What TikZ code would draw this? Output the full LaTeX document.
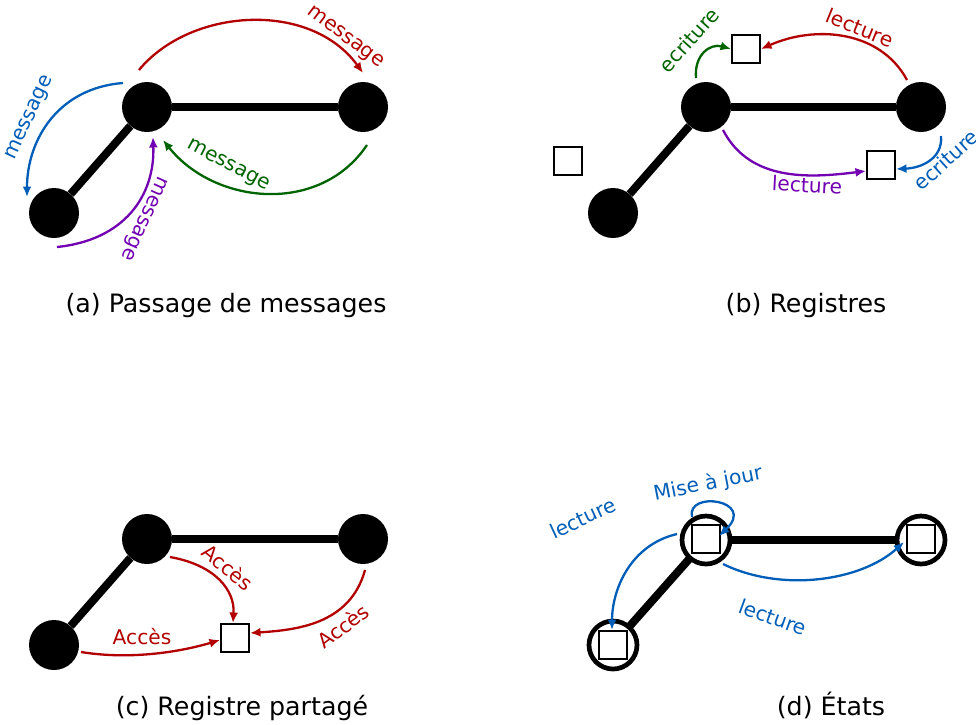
\documentclass[tikz,border=0pt]{standalone}
\usepackage{fontspec}
\setmainfont{DejaVu Sans}
\usetikzlibrary{calc,arrows.meta}
\definecolor{cred}{RGB}{178,0,0}
\definecolor{cblue}{RGB}{0,94,184}
\definecolor{cgreen}{RGB}{0,100,0}
\definecolor{cpurple}{RGB}{114,0,178}
\tikzset{
  proc/.style={circle,fill=black,minimum size=50pt,inner sep=0pt},
  sproc/.style={circle,draw=black,line width=4.7pt,fill=white,minimum size=48pt,inner sep=0pt},
  reg/.style={rectangle,draw=black,line width=2pt,fill=white,minimum size=28pt,inner sep=0pt},
  link/.style={line width=8pt},
  arr/.style={line width=2.3pt,-{Latex[length=10.5pt,width=9pt]}},
  lab/.style={font=\fontsize{20.2}{23}\selectfont,inner sep=0pt},
  captxt/.style={font=\fontsize{25.3}{29}\selectfont,inner sep=0pt,anchor=base},
}
\begin{document}
\begin{tikzpicture}[x=1pt,y=-1pt]
\useasboundingbox (0,0) rectangle (976,724);
% ---------- (a)
\node[proc] (A1) at (147,107) {};
\node[proc] (A2) at (363,107) {};
\node[proc] (A3) at (54,213) {};
\draw[link] (A1) -- (A2);
\draw[link] (A1) -- (A3);
\coordinate (ar0) at (139,70); \coordinate (ar1) at (363,73);
\draw[arr,cred] (ar0) .. controls (190,8) and (310,0) .. (ar1);
\node[lab,cred,rotate=-37] (ar) at (345,38) {message};
\coordinate (ab0) at (123,83); \coordinate (ab1) at (27,197);
\draw[arr,cblue] (ab0) .. controls (58,88) and (27,140) .. (ab1);
\node[lab,cblue,rotate=65] (ab) at (30,118) {message};
\coordinate (ag0) at (367,145); \coordinate (ag1) at (163,140);
\draw[arr,cgreen] (ag0) .. controls (320,215) and (215,205) .. (ag1);
\node[lab,cgreen,rotate=-28] (ag) at (228,166) {message};
\coordinate (ap0) at (57,247); \coordinate (ap1) at (153,137);
\draw[arr,cpurple] (ap0) .. controls (125,240) and (155,195) .. (ap1);
\node[lab,cpurple,rotate=-114] (ap) at (143,218) {message};
\node[captxt] (capa) at (226,312) {(a) Passage de messages};
% ---------- (b)
\node[proc] (B1) at (706,107) {};
\node[proc] (B2) at (921,107) {};
\node[proc] (B3) at (613,213) {};
\draw[link] (B1) -- (B2);
\draw[link] (B1) -- (B3);
\node[reg] (R1) at (746,49) {};
\node[reg] (R2) at (568,161) {};
\node[reg] (R3) at (881,165) {};
\coordinate (bg0) at (696,78);
\draw[arr,cgreen] (bg0) .. controls (694,55) and (710,43) .. (R1.west);
\node[lab,cgreen,rotate=48] (bg) at (689,40) {ecriture};
\coordinate (br0) at (907,80);
\draw[arr,cred] (br0) .. controls (880,30) and (815,25) .. (R1.east);
\node[lab,cred,rotate=-22] (br) at (860,28) {lecture};
\coordinate (bp0) at (723,130);
\draw[arr,cpurple] (bp0) .. controls (750,182) and (810,178) .. ($(R3.west)+(0,6)$);
\node[lab,cpurple,rotate=-3] (bp) at (807,185) {lecture};
\coordinate (bb0) at (941,136);
\draw[arr,cblue] (bb0) .. controls (943,158) and (922,168) .. ($(R3.east)+(0,4)$);
\node[lab,cblue,rotate=42] (bb) at (946,160) {ecriture};
\node[captxt] (capb) at (806,312) {(b) Registres};
% ---------- (c)
\node[proc] (C1) at (147,539) {};
\node[proc] (C2) at (363,539) {};
\node[proc] (C3) at (54,645) {};
\draw[link] (C1) -- (C2);
\draw[link] (C1) -- (C3);
\node[reg] (RS) at (235,638) {};
\coordinate (c10) at (170,557);
\draw[arr,cred] (c10) .. controls (215,565) and (235,590) .. ($(RS.north)+(-2,0)$);
\node[lab,cred,rotate=-39] (cl1) at (228,567) {Accès};
\coordinate (c20) at (365,570);
\draw[arr,cred] (c20) .. controls (350,625) and (295,630) .. ($(RS.east)+(0,-5)$);
\node[lab,cred,rotate=37] (cl2) at (343,626) {Accès};
\coordinate (c30) at (81,652);
\draw[arr,cred] (c30) .. controls (130,660) and (180,652) .. ($(RS.west)+(0,2)$);
\node[lab,cred] (cl3) at (142,637) {Accès};
\node[captxt] (capc) at (242,715) {(c) Registre partagé};
% ---------- (d)
\draw[link] (706,540) -- (921,540);
\draw[link] (706,540) -- (613,645);
\node[sproc] (D1) at (706,540) {};
\node[sproc] (D2) at (921,540) {};
\node[sproc] (D3) at (613,645) {};
\node[reg] (Q1) at (706,539) {};
\node[reg] (Q2) at (921,539) {};
\node[reg] (Q3) at (613,645) {};
\coordinate (d10) at (677,534);
\draw[arr,cblue] (d10) .. controls (630,545) and (612,590) .. ($(Q3.north)+(-1,0)$);
\node[lab,cblue,rotate=25] (dl1) at (583,518) {lecture};
\coordinate (d20) at (692,517);
\draw[arr,cblue] (d20) .. controls (686,490) and (757,500) .. ($(Q1.east)+(-2,-3)$);
\node[lab,cblue,rotate=11] (dl2) at (708,484) {Mise à jour};
\coordinate (d30) at (723,564);
\draw[arr,cblue] (d30) .. controls (780,592) and (860,582) .. ($(Q2.west)+(-2,3)$);
\node[lab,cblue,rotate=-20] (dl3) at (773,617) {lecture};
\node[captxt] (capd) at (831,715) {(d) États};
\end{tikzpicture}
\end{document}
